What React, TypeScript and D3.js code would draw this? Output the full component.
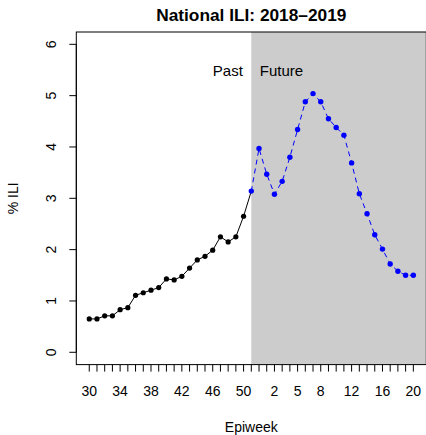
import React from "react";
import * as d3 from "d3";

const weeks = [30, 31, 32, 33, 34, 35, 36, 37, 38, 39, 40, 41, 42, 43, 44, 45, 46, 47, 48, 49, 50, 51, 52, 1, 2, 3, 4, 5, 6, 7, 8, 9, 10, 11, 12, 13, 14, 15, 16, 17, 18, 19, 20];
const labelledWeeks = [30, 34, 38, 42, 46, 50, 2, 5, 8, 12, 16, 20];
const pastWeeks = [30, 31, 32, 33, 34, 35, 36, 37, 38, 39, 40, 41, 42, 43, 44, 45, 46, 47, 48, 49, 50, 51];
const pastValues = [0.65, 0.65, 0.71, 0.71, 0.83, 0.87, 1.11, 1.16, 1.21, 1.26, 1.43, 1.41, 1.48, 1.64, 1.80, 1.87, 1.99, 2.25, 2.15, 2.25, 2.65, 3.14];
const futureWeeks = [51, 52, 1, 2, 3, 4, 5, 6, 7, 8, 9, 10, 11, 12, 13, 14, 15, 16, 17, 18, 19, 20];
const futureValues = [3.14, 3.97, 3.47, 3.08, 3.33, 3.80, 4.34, 4.88, 5.04, 4.88, 4.55, 4.38, 4.23, 3.69, 3.09, 2.70, 2.29, 2.01, 1.72, 1.58, 1.50, 1.50];
const yTicks = [0, 1, 2, 3, 4, 5, 6];

const W = 426;
const H = 435;
const FONT = "'Liberation Sans', Arial, Helvetica, sans-serif";

export default function App() {
  const left = 76.3;
  const right = 426.3;
  const top = 32;
  const bottom = 364.6;
  const n = weeks.length;
  const pad = (n - 1) * 0.04;
  const x = d3.scaleLinear().domain([-pad, n - 1 + pad]).range([left, right]);
  const y = d3.scaleLinear().domain([-0.24, 6.24]).range([bottom, top]);
  const idx = (wk: number) => weeks.indexOf(wk);
  const pastPts: [number, number][] = pastWeeks.map((w, i) => [x(idx(w)), y(pastValues[i])]);
  const futPts: [number, number][] = futureWeeks.map((w, i) => [x(idx(w)), y(futureValues[i])]);
  const line = d3.line();
  const splitX = x(idx(51));

  return (
    <svg width={W} height={H} style={{ position: "absolute", left: 0, top: 0, display: "block" }} fontFamily={FONT}>
      <rect x={0} y={0} width={W} height={H} fill="#fff" />
      <rect x={splitX} y={top} width={right - splitX} height={bottom - top} fill="#cccccc" />
      <path d={line(pastPts) || ""} fill="none" stroke="#000" strokeWidth={1} />
      {pastPts.slice(0, pastPts.length - 1).map((p, i) => (
        <circle key={"p" + i} cx={p[0]} cy={p[1]} r={2.6} fill="#000" />
      ))}
      <path d={line(futPts) || ""} fill="none" stroke="#0000ff" strokeWidth={1} strokeDasharray="5,4" />
      {futPts.map((p, i) => (
        <circle key={"f" + i} cx={p[0]} cy={p[1]} r={2.7} fill="#0000ff" />
      ))}
      <rect x={left} y={top} width={right - left} height={bottom - top} fill="none" stroke="#000" strokeWidth={1} />
      <line x1={left} x2={left} y1={y(0)} y2={y(6)} stroke="#000" />
      {yTicks.map((t) => (
        <g key={"y" + t}>
          <line x1={left - 7} x2={left} y1={y(t)} y2={y(t)} stroke="#000" />
          <text transform={`translate(${56},${y(t)}) rotate(-90)`} textAnchor="middle" fontSize={14} fill="#000">
            {t}
          </text>
        </g>
      ))}
      {weeks.map((w, i) => (
        <line key={"xt" + i} x1={x(i)} x2={x(i)} y1={bottom} y2={bottom + 7} stroke="#000" />
      ))}
      {labelledWeeks.map((w) => (
        <text key={"xl" + w} x={x(idx(w))} y={396} textAnchor="middle" fontSize={14} fill="#000">
          {w}
        </text>
      ))}
      <text x={(left + right) / 2} y={432} textAnchor="middle" fontSize={14} fill="#000">Epiweek</text>
      <text transform={`translate(${18},${(top + bottom) / 2}) rotate(-90)`} textAnchor="middle" fontSize={14} fill="#000">% ILI</text>
      <text x={(left + right) / 2} y={21} textAnchor="middle" fontSize={17.3} fontWeight="bold" fill="#000">National ILI: 2018–2019</text>
      <text x={splitX - 8.5} y={76} textAnchor="end" fontSize={15} fill="#000">Past</text>
      <text x={splitX + 8.5} y={76} textAnchor="start" fontSize={15} fill="#000">Future</text>
    </svg>
  );
}
